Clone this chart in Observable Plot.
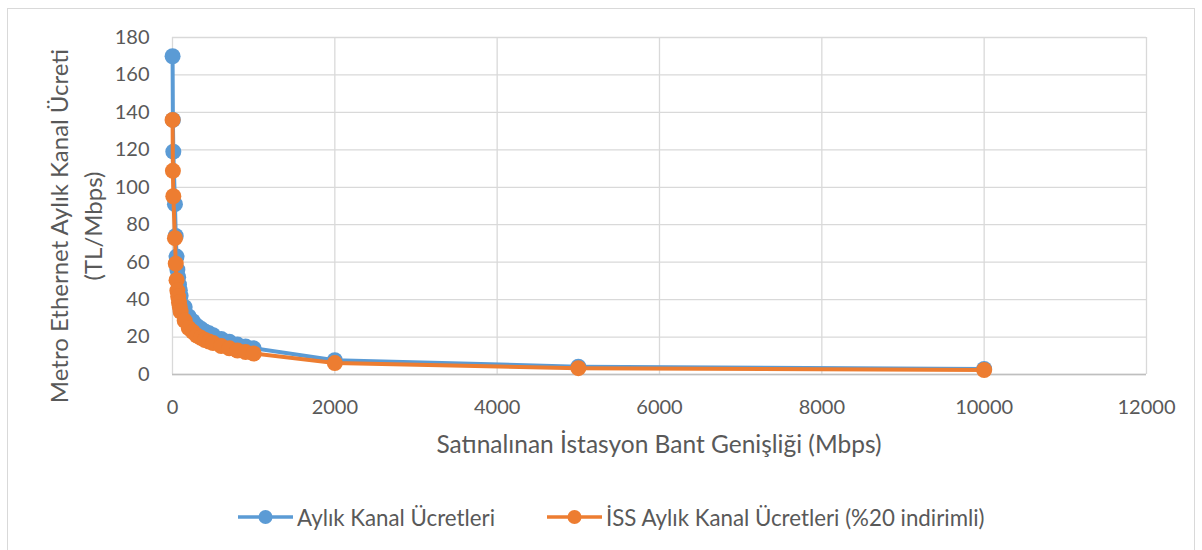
<!DOCTYPE html>
<html>
<head>
<meta charset="utf-8">
<script src="https://cdn.jsdelivr.net/npm/d3@7"></script>
<script src="https://cdn.jsdelivr.net/npm/@observablehq/plot@0.6"></script>
<style>
  html, body { margin: 0; padding: 0; background: #fff; }
  body { width: 1202px; height: 550px; position: relative; overflow: hidden; font-family: Lato, "Open Sans", sans-serif; color: #595959; }
  #frame { position: absolute; left: 7px; top: 8px; width: 1188px; height: 600px; border: 1px solid #d9d9d9; box-sizing: border-box; }
  #chart { position: absolute; left: 0; top: 0; }
  #ytitle { position: absolute; left: 76px; top: 226px; transform: translate(-50%, -50%) rotate(-90deg); font-size: 24px; text-align: center; line-height: 34px; white-space: nowrap; }
  #xtitle { position: absolute; left: 659px; top: 443px; transform: translate(-50%, -50%); font-size: 24.5px; white-space: nowrap; }
  #legend { position: absolute; top: 503px; left: 0; width: 1202px; height: 28px; font-size: 22.3px; }
  .item { position: absolute; top: 0; display: flex; align-items: center; height: 28px; white-space: nowrap; }
  .item svg { margin-right: 4px; }
</style>
</head>
<body>
<div id="frame"></div>
<div id="chart"></div>
<div id="ytitle">Metro Ethernet Aylık Kanal Ücreti<br>(TL/Mbps)</div>
<div id="xtitle">Satınalınan İstasyon Bant Genişliği (Mbps)</div>
<div id="legend"></div>
<script>
// Purchased bandwidth (Mbps)
const bandwidth = [1, 5, 10, 30, 40, 50, 60, 70, 80, 90, 100, 150, 200, 250, 300, 350, 400, 450, 500, 600, 700, 800, 900, 1000, 2000, 5000, 10000];
// Monthly channel fees (TL/Mbps)
const aylikUcret = [170, 136, 119, 91, 74, 63, 56, 52, 48, 45, 42, 36, 31, 28.5, 26, 24.5, 23, 22, 21, 19, 17.5, 16, 15, 14, 7.6, 4.2, 3.0];
// ISS monthly channel fees (20% discount)
const issUcret = [136, 108.8, 95.2, 72.8, 59.2, 50.4, 44.8, 41.6, 38.4, 36, 33.6, 28.8, 24.8, 22.8, 20.8, 19.6, 18.4, 17.6, 16.8, 15.2, 14, 12.8, 12, 11.2, 6.1, 3.4, 2.4];

const seriesNames = ["Aylık Kanal Ücretleri", "İSS Aylık Kanal Ücretleri (%20 indirimli)"];
const seriesColors = ["#5B9BD5", "#ED7D31"];
const xTicks = [0, 2000, 4000, 6000, 8000, 10000, 12000];
const yTicks = [0, 20, 40, 60, 80, 100, 120, 140, 160, 180];

const blue = bandwidth.map((b, i) => ({x: b, y: aylikUcret[i]}));
const orange = bandwidth.map((b, i) => ({x: b, y: issUcret[i]}));

const chart = Plot.plot({
  width: 1202,
  height: 470,
  marginLeft: 172,
  marginRight: 56,
  marginTop: 37,
  marginBottom: 96,
  style: {fontFamily: "Lato, 'Open Sans', sans-serif", fontSize: "20px", color: "#595959", background: "transparent"},
  x: {domain: [0, 12000], ticks: xTicks, tickFormat: d => String(d)},
  y: {domain: [0, 180], ticks: yTicks, tickFormat: d => String(d)},
  marks: [
    Plot.gridX(xTicks, {stroke: "#d9d9d9", strokeOpacity: 1, strokeWidth: 1.3}),
    Plot.gridY(yTicks, {stroke: "#d9d9d9", strokeOpacity: 1, strokeWidth: 1.3}),
    Plot.ruleY([0], {stroke: "#bfbfbf", strokeWidth: 1.3}),
    Plot.axisX({ticks: xTicks, tickSize: 0, tickPadding: 25, label: null, tickFormat: d => String(d), fill: "#595959"}),
    Plot.axisY({ticks: yTicks, tickSize: 0, tickPadding: 23, label: null, tickFormat: d => String(d), fill: "#595959"}),
    Plot.line(blue, {x: "x", y: "y", stroke: seriesColors[0], strokeWidth: 4}),
    Plot.dot(blue, {x: "x", y: "y", r: 8, fill: seriesColors[0], stroke: "none"}),
    Plot.line(orange, {x: "x", y: "y", stroke: seriesColors[1], strokeWidth: 4}),
    Plot.dot(orange, {x: "x", y: "y", r: 8, fill: seriesColors[1], stroke: "none"})
  ]
});
document.getElementById("chart").appendChild(chart);

const legend = document.getElementById("legend");
const lefts = [238, 547];
seriesNames.forEach((name, i) => {
  const item = document.createElement("div");
  item.className = "item";
  item.style.left = lefts[i] + "px";
  item.innerHTML = `<svg width="55" height="16"><line x1="0" y1="8" x2="55" y2="8" stroke="${seriesColors[i]}" stroke-width="3.5"/><circle cx="27.5" cy="8" r="7" fill="${seriesColors[i]}"/></svg>`;
  const span = document.createElement("span");
  span.textContent = name;
  item.appendChild(span);
  legend.appendChild(item);
});
</script>
</body>
</html>
